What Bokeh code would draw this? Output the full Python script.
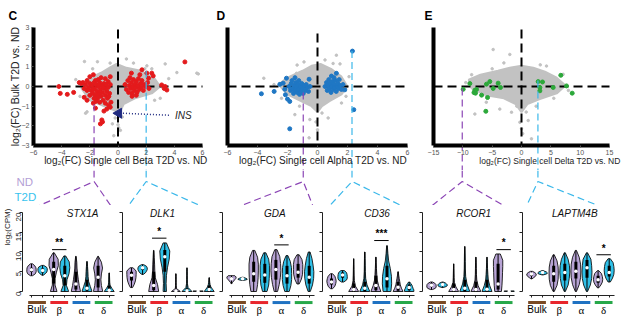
import math
import numpy as np
from bokeh.plotting import figure
from bokeh.layouts import column, row
from bokeh.models import Range1d, FixedTicker, AllLabels
from bokeh.core.properties import value
from bokeh.embed import file_html
from bokeh.resources import INLINE

SANS = "Liberation Sans"
SERIF = "Liberation Serif"

# ====================== DATA: scatter panels ======================
C_RED = [(-4.2,0.0),(-4.1,-0.35),(-3.6,-0.4),(-3.15,-0.3),(-2.75,0.2),(-2.5,0.2),(-2.6,0.15),
         (-2.0,0.5),(-1.75,0.6),(-1.4,0.35),(-0.9,0.4),(-0.55,0.5),(-1.2,0.45),(-1.6,0.3),(-2.2,0.3),(-0.7,0.25),
         (-2.3,0.1),(-2.1,-0.05),(-2.0,0.15),(-1.9,-0.2),(-1.85,0.05),(-1.8,-0.35),(-1.7,0.2),(-1.65,-0.1),
         (-1.6,-0.45),(-1.55,0.1),(-1.5,-0.25),(-1.45,-0.6),(-1.4,0.0),(-1.35,-0.35),(-1.3,0.2),(-1.25,-0.15),
         (-1.2,-0.5),(-1.15,0.05),(-1.1,-0.3),(-1.05,-0.7),(-1.0,0.15),(-0.95,-0.1),(-0.9,-0.45),(-0.85,0.1),
         (-0.8,-0.25),(-0.75,-0.6),(-0.7,-0.05),(-0.6,-0.35),(-0.55,0.1),(-0.5,-0.8),(-1.7,-0.6),(-2.0,-0.45),
         (-1.3,-0.8),(-0.9,-0.85),(-1.55,-0.75),(-2.2,-0.2),(-1.75,-0.15),(-1.35,0.1),(-1.05,-0.05),(-1.45,-0.4),
         (-0.65,-0.5),(-2.4,-0.1),(-1.75,-0.85),(-2.2,-0.7),(-1.6,-1.1),(-0.67,-0.95),(-0.55,-1.05),(-1.15,-1.7),
         (-1.25,-1.9),(-1.1,-1.8),(-0.8,-1.15),(-1.0,-1.25),(-2.4,-0.55),
         (0.5,0.1),(0.6,-0.15),(0.7,0.3),(0.75,-0.3),(0.8,0.05),(0.85,0.45),(0.9,-0.1),(0.95,0.2),(1.0,-0.35),
         (1.05,0.0),(1.1,0.35),(1.15,-0.2),(1.2,0.1),(1.25,-0.05),(1.3,0.25),(1.35,-0.3),(1.4,0.05),(1.45,0.4),
         (1.5,-0.15),(1.6,0.15),(1.65,-0.05),(1.7,0.3),(1.8,-0.2),(1.85,0.1),(1.95,0.0),(2.1,0.2),(2.2,-0.1),
         (0.95,0.68),(1.55,0.6),(1.7,0.85),(2.05,0.68),(2.4,0.68),(2.5,0.54),(2.17,0.42),(1.0,-0.5),(1.3,-0.45),
         (3.1,0.08),(3.35,0.0),(3.47,-0.18),(3.28,-0.1),(4.75,1.25)]
C_GRAY = [(-2.38,1.27),(-0.56,1.19),(1.1,1.19),(2.05,1.05),(3.35,1.15),(4.18,0.71),(5.6,0.68),(-2.2,-1.29),
          (3.0,-0.6),(0.17,-2.23),(-0.3,-2.5),(-1.46,1.26),(5.7,0.64),(-2.3,-1.36),(-3.0,0.35),(-2.7,-0.5),
          (0.6,1.4),(1.9,0.9),(2.6,-0.7),(-0.2,-1.6),(0.3,-1.55),(-1.8,0.9),(3.6,0.4),(2.4,0.9),(-0.4,-1.9),
          (0.0,-1.95),(0.05,-2.1)]
C_CORE_X = [-0.1, 0.6, 1.6, 2.6, 3.0, 2.4, 1.2, 0.4, 0.1, -0.3, -1.0, -2.0, -2.6, -2.2, -1.2, -0.5]
C_CORE_Y = [1.15, 0.95, 0.8, 0.4, 0.0, -0.35, -0.6, -0.9, -1.35, -1.2, -1.0, -0.7, -0.1, 0.35, 0.7, 1.0]
INS_X = [0.05]
INS_Y = [-1.36]
INS_LABEL_X = [3.65]
INS_LABEL_Y = [-1.46]

D_BLUE = [(2.33,1.8),(2.42,-1.18),(-1.85,-2.15),(-3.74,-0.37),(-2.89,-0.25),(-2.51,0.11),(-2.29,0.17),
          (-2.07,0.42),(-2.14,-0.42),(-2.0,-0.64),(-1.85,-0.76),(-2.18,-0.14),(-0.56,0.37),(1.82,-0.17),(-1.5,0.45),
          (-1.9,0.0),(-1.8,-0.2),(-1.75,0.15),(-1.65,-0.1),(-1.6,-0.35),(-1.55,0.05),(-1.5,-0.2),(-1.45,0.2),
          (-1.4,-0.05),(-1.35,-0.3),(-1.3,0.1),(-1.25,-0.15),(-1.2,-0.4),(-1.15,0.0),(-1.1,-0.25),(-1.05,0.15),
          (-1.0,-0.1),(-0.95,-0.35),(-0.9,0.05),(-0.8,-0.2),(-0.75,0.1),(-0.7,-0.05),(-0.6,-0.25),(-1.7,0.3),
          (-1.25,0.3),(-0.5,0.0),
          (0.5,0.0),(0.6,0.2),(0.65,-0.2),(0.7,0.05),(0.75,0.35),(0.8,-0.1),(0.85,0.15),(0.9,-0.3),(0.95,0.0),
          (1.0,0.25),(1.05,-0.15),(1.1,0.1),(1.15,-0.05),(1.2,0.3),(1.25,-0.25),(1.3,0.0),(1.35,0.15),(1.4,-0.1),
          (1.5,0.05),(1.6,-0.15),(1.7,0.1),(0.93,0.53),(1.26,0.67),(1.1,0.45),(1.45,0.35)]
D_GRAY = [(1.26,1.59),(1.04,1.17),(-3.58,0.42),(-2.9,0.1),(-1.4,0.67),(-1.51,-1.43),(-0.51,-1.68),(0.71,-1.6),
          (1.6,-0.84),(-0.56,-2.61),(-1.36,1.09),(1.5,1.15),(2.1,0.5),(-0.1,-1.8),(-1.2,-1.0),(-2.4,-0.6),
          (0.3,-1.35),(1.9,-0.5),(-0.9,1.25),(0.5,1.35),(0.0,-2.2)]
D_CORE_X = [0.2, 0.9, 1.6, 2.0, 1.6, 0.8, 0.3, 0.0, -0.4, -1.2, -2.0, -2.6, -2.0, -1.0, -0.4]
D_CORE_Y = [1.15, 0.9, 0.5, 0.0, -0.4, -0.75, -1.0, -1.3, -1.0, -0.7, -0.4, 0.1, 0.45, 0.8, 1.05]

E_GREEN = [(-9.94,-0.14),(-8.8,0.15),(-7.95,-0.19),(-8.1,-0.31),(-7.84,-0.34),(-6.8,-0.44),(-5.97,0.12),
           (-5.4,0.25),(-4.83,-0.1),(-3.98,0.17),(-3.58,-0.05),(-5.79,-0.56),(-6.08,-1.26),(-7.67,-0.15),
           (2.84,0.25),(3.58,0.23),(3.13,-0.05),(3.13,-0.22),(5.4,-0.05),(6.7,0.57),(7.67,0.03),(8.64,-0.34)]
E_GRAY = [(-4.83,1.88),(-1.99,1.63),(-8.5,0.6),(-1.7,-1.31),(-0.28,-1.82),(0.0,-2.15),(1.7,-2.66),(1.14,-1.73),
          (-7.95,-1.4),(-3.7,-1.15),(7.1,0.62),(4.26,1.04),(-6.0,-0.8),(5.5,-0.6),(8.0,-0.2),(-9.5,0.2),
          (2.5,-1.0),(-3.0,1.2),(3.2,1.1),(-0.8,-1.0),(0.8,-1.3),(-5.0,0.9),(0.2,-2.4)]
E_CORE_X = [0, 2, 4, 6, 7.5, 6, 3, 1, 0, -1, -3, -6, -8.5, -9, -7, -4, -2]
E_CORE_Y = [1.05, 0.95, 0.75, 0.45, 0.05, -0.35, -0.65, -0.9, -1.3, -0.9, -0.6, -0.45, -0.1, 0.35, 0.6, 0.8, 0.95]

# selected genes marked on each scatter (x, start y)
C_PURPLE = (-1.7, -0.9)
C_CYAN = (2.0, 0.8)
D_PURPLE = (-0.95, -0.3)
D_CYAN = (2.3, 1.8)
E_PURPLE = (-10.1, -0.1)
E_CYAN = (2.8, 0.3)

C_XTICKS = [-6, -4, -2, 0, 2, 4, 6]
D_XTICKS = [-6, -4, -2, 0, 2, 4, 6]
E_XTICKS = [-15, -10, -5, 0, 5, 10, 15]
C_YTICKS = [-3, -2, -1, 0, 1, 2, 3]

# ====================== DATA: violin panels ======================
GROUPS = ["Bulk", "β", "α", "δ"]
GROUP_COLORS = ["#7a4a24", "#e8262c", "#1f72c2", "#27a84a"]
POSITIONS = [1, 2, 3, 4, 5, 6, 7, 8]   # ND,T2D for Bulk, beta, alpha, delta

STX1A_LO = [4.0, 4.1, 0.0, 0.0, 0.0, 0.0, 0.0, 0.0]
STX1A_HI = [7.0, 6.6, 9.8, 9.0, 8.9, 7.6, 8.9, 4.7]
STX1A_Q1 = [5.0, 4.8, 2.0, 1.5, 0.5, 0.2, 1.0, 0.0]
STX1A_MED = [5.5, 5.3, 5.6, 4.0, 1.9, 0.8, 3.6, 0.3]
STX1A_Q3 = [6.0, 5.8, 7.5, 6.5, 5.0, 3.0, 6.5, 1.5]
STX1A_SHAPE = [[0.10,0.35,0.42,0.42,0.40,0.30,0.10],[0.05,0.25,0.38,0.42,0.42,0.35,0.10],
               [0.30,0.12,0.12,0.25,0.42,0.40,0.05],[0.35,0.15,0.20,0.38,0.45,0.40,0.08],
               [0.42,0.30,0.22,0.15,0.10,0.08,0.02],[0.45,0.30,0.15,0.10,0.08,0.05,0.02],
               [0.42,0.30,0.25,0.30,0.40,0.30,0.03],[0.45,0.25,0.08,0.05,0.04,0.03,0.02]]

DLK1_LO = [1.0, 4.3, 0.0, 0.0, 0.0, 0.0, 0.0, 0.0]
DLK1_HI = [6.0, 6.8, 10.4, 12.3, 4.5, 6.0, 0.15, 3.5]
DLK1_Q1 = [2.8, 5.5, 0.3, 5.0, 0.0, 0.0, 0.0, 0.0]
DLK1_MED = [4.1, 6.0, 1.5, 8.8, 0.1, 0.2, 0.05, 0.5]
DLK1_Q3 = [5.0, 6.3, 5.0, 10.5, 0.4, 0.8, 0.1, 1.5]
DLK1_SHAPE = [[0.10,0.25,0.35,0.40,0.42,0.42,0.15],[0.05,0.25,0.35,0.42,0.42,0.35,0.10],
              [0.45,0.35,0.15,0.10,0.08,0.05,0.02],[0.15,0.12,0.15,0.25,0.40,0.45,0.15],
              [0.40,0.05,0.03,0.02,0.02,0.02,0.01],[0.45,0.10,0.04,0.03,0.02,0.02,0.01],
              [0.45,0.45,0.45,0.45,0.45,0.45,0.45],[0.45,0.30,0.15,0.08,0.05,0.03,0.02]]

GDA_LO = [2.0, 2.8, 0.0, 0.0, 0.0, 0.0, 1.9, 0.0]
GDA_HI = [4.0, 3.6, 10.4, 9.8, 10.6, 9.1, 9.3, 10.0]
GDA_Q1 = [2.9, 3.0, 2.5, 2.2, 3.0, 2.0, 3.5, 2.0]
GDA_MED = [3.2, 3.2, 4.5, 4.2, 5.6, 4.0, 4.9, 3.6]
GDA_Q3 = [3.6, 3.4, 7.5, 7.0, 8.0, 6.5, 7.0, 6.5]
GDA_SHAPE = [[0.05,0.10,0.20,0.30,0.40,0.42,0.30],[0.05,0.30,0.42,0.40,0.30,0.20,0.05],
             [0.25,0.35,0.40,0.42,0.42,0.35,0.10],[0.20,0.35,0.40,0.42,0.42,0.35,0.10],
             [0.15,0.30,0.40,0.45,0.42,0.35,0.10],[0.20,0.35,0.42,0.42,0.40,0.30,0.08],
             [0.10,0.30,0.40,0.42,0.42,0.35,0.10],[0.10,0.30,0.40,0.42,0.35,0.25,0.08]]

CD36_LO = [0.7, 2.4, 0.0, 0.0, 0.0, 0.0, 0.0, 0.0]
CD36_HI = [4.5, 5.3, 8.3, 10.0, 8.7, 11.6, 5.0, 2.4]
CD36_Q1 = [1.8, 3.5, 0.0, 0.0, 0.3, 1.0, 0.2, 0.3]
CD36_MED = [2.4, 4.2, 0.5, 0.8, 1.5, 3.2, 1.1, 1.0]
CD36_Q3 = [3.3, 4.8, 2.0, 2.5, 4.0, 6.5, 2.5, 1.8]
CD36_SHAPE = [[0.10,0.30,0.38,0.42,0.38,0.30,0.10],[0.10,0.35,0.42,0.42,0.40,0.35,0.15],
              [0.45,0.15,0.06,0.04,0.03,0.02,0.01],[0.45,0.20,0.08,0.05,0.04,0.03,0.02],
              [0.45,0.25,0.12,0.08,0.05,0.03,0.02],[0.35,0.42,0.40,0.30,0.15,0.08,0.03],
              [0.45,0.30,0.20,0.15,0.10,0.05,0.02],[0.42,0.42,0.35,0.30,0.25,0.15,0.05]]

RCOR1_LO = [0.5, 1.0, 0.0, 0.0, 0.0, 0.0, 0.0, 0.0]
RCOR1_HI = [2.4, 2.4, 7.0, 11.4, 8.7, 8.7, 9.5, 0.15]
RCOR1_Q1 = [1.2, 1.5, 0.0, 0.0, 0.0, 0.0, 0.5, 0.0]
RCOR1_MED = [1.6, 1.8, 0.5, 0.8, 0.5, 0.6, 1.9, 0.05]
RCOR1_Q3 = [2.0, 2.1, 2.0, 3.0, 2.5, 3.0, 7.0, 0.1]
RCOR1_SHAPE = [[0.10,0.35,0.42,0.42,0.40,0.30,0.10],[0.05,0.30,0.42,0.42,0.35,0.25,0.05],
               [0.45,0.20,0.06,0.04,0.03,0.02,0.01],[0.45,0.20,0.08,0.05,0.04,0.03,0.01],
               [0.45,0.20,0.08,0.05,0.04,0.03,0.01],[0.45,0.25,0.12,0.08,0.05,0.03,0.01],
               [0.30,0.35,0.38,0.40,0.42,0.42,0.20],[0.45,0.45,0.45,0.45,0.45,0.45,0.45]]

LAPTM4B_LO = [3.2, 4.2, 0.0, 0.0, 0.0, 0.0, 0.9, 2.4]
LAPTM4B_HI = [5.1, 5.3, 9.3, 9.8, 10.4, 9.8, 5.3, 8.3]
LAPTM4B_Q1 = [4.0, 4.6, 2.5, 2.8, 3.3, 3.5, 2.2, 3.8]
LAPTM4B_MED = [4.4, 4.8, 4.5, 4.8, 5.1, 6.0, 3.0, 4.8]
LAPTM4B_Q3 = [4.7, 5.0, 6.5, 7.0, 7.5, 8.0, 4.0, 6.5]
LAPTM4B_SHAPE = [[0.05,0.20,0.35,0.42,0.42,0.30,0.10],[0.05,0.30,0.42,0.42,0.35,0.20,0.05],
                 [0.05,0.30,0.40,0.42,0.40,0.30,0.05],[0.05,0.30,0.40,0.45,0.42,0.30,0.05],
                 [0.05,0.30,0.42,0.45,0.42,0.30,0.05],[0.05,0.30,0.42,0.45,0.42,0.35,0.05],
                 [0.05,0.25,0.38,0.42,0.38,0.30,0.05],[0.10,0.30,0.42,0.45,0.42,0.35,0.10]]

GENES = ["STX1A", "DLK1", "GDA", "CD36", "RCOR1", "LAPTM4B"]
SIG_PAIRS = [(3, 4), (3, 4), (5, 6), (5, 6), (7, 8), (7, 8)]
SIG_Y = [10.6, 13.5, 11.8, 12.9, 10.6, 9.3]
SIG_TEXT = ["**", "*", "*", "***", "*", "*"]
TITLE_X = [5.6, 3.8, 4.9, 5.1, 4.8, 4.9]
V_YTICKS = [0, 5, 10, 15, 20]

# ====================== styling / geometry ======================
ND_FILL = "#b7a3d4"
T2D_FILL = "#2fc0e8"
PURPLE = "#8b45b5"
CYAN = "#3bb8ea"
GRAY = "#c2c2c2"
NAVY = "#1f2a80"

TOP_H = 170
FRAME_TOP = 27         # pixel row of y = 3
AX_PX = 145            # pixel row of y = -3 (x axis)
PX_PER_Y = (AX_PX - FRAME_TOP) / 6.0
Y_BOT = -3.0 - (TOP_H - AX_PX) / PX_PER_Y
Y_TOP = 3.0 + FRAME_TOP / PX_PER_Y
CONN_H = 35
APEX_Y = 11
V_H = 118


def clean(p):
    p.outline_line_color = None
    p.grid.visible = False
    p.background_fill_color = "white"
    p.border_fill_color = "white"
    p.title.visible = False


def blank_labels(axis, ticks):
    axis.major_label_overrides = {t: "" for t in ticks}


def scatter_panel(letter, xr, plot_left, plot_w, fig_w, xticks, xlabel, xlabel_size, xlabel_right_px,
                  show_y, core_x, core_y, gray, hi_pts, hi_color, vtop, purple, cyan):
    s = plot_w / (xr[1] - xr[0])                     # pixels per x unit
    x0 = xr[0] - plot_left / s
    x1 = xr[1] + (fig_w - plot_left - plot_w) / s
    px2x = lambda px: x0 + px / s
    py2y = lambda py: Y_TOP - py / PX_PER_Y

    p = figure(width=fig_w, height=TOP_H, x_range=Range1d(x0, x1), y_range=Range1d(Y_BOT, Y_TOP),
               output_backend="svg", toolbar_location=None, min_border=0)
    clean(p)

    xa = p.xaxis[0]
    xa.fixed_location = -3.0
    xa.bounds = (xr[0], xr[1])
    xa.ticker = FixedTicker(ticks=xticks)
    xa.axis_line_width = 4
    xa.axis_line_color = "black"
    xa.major_tick_in = 0
    xa.major_tick_out = 2
    xa.major_tick_line_color = "#555555"
    xa.minor_tick_line_color = None
    xa.major_label_text_font = SANS
    xa.major_label_text_font_size = "7px"
    xa.major_label_text_color = "#555555"
    xa.major_label_standoff = 2

    ya = p.yaxis[0]
    ya.fixed_location = xr[0]
    ya.bounds = (-3.0, 3.0)
    ya.axis_line_width = 4
    ya.axis_line_color = "black"
    ya.minor_tick_line_color = None
    if show_y:
        ya.ticker = FixedTicker(ticks=C_YTICKS)
        ya.major_tick_in = 0
        ya.major_tick_out = 2
        ya.major_tick_line_color = "#555555"
        ya.major_label_text_font = SANS
        ya.major_label_text_font_size = "7px"
        ya.major_label_text_color = "#555555"
        ya.major_label_standoff = 2
        p.text([px2x(14)], [0.0], text=["log₂(FC) Bulk T2D vs. ND"], angle=math.pi / 2,
               text_font=value(SANS), text_font_size="10.5px", text_color="#222222",
               text_align="center", text_baseline="middle")
    else:
        ya.ticker = FixedTicker(ticks=[])

    p.patch(core_x, core_y, fill_color=GRAY, line_color=GRAY, line_width=2)
    p.scatter([g[0] for g in gray], [g[1] for g in gray], size=2.5, color=GRAY)
    p.line([xr[0], xr[1]], [0, 0], line_color="black", line_width=2, line_dash="9 5")
    p.line([0, 0], [vtop, -3.0], line_color="black", line_width=2, line_dash="9 5")
    p.scatter([h[0] for h in hi_pts], [h[1] for h in hi_pts], size=4, color=hi_color)
    p.line([purple[0], purple[0]], [purple[1], Y_BOT], line_color=PURPLE, line_width=1.2, line_dash="7 4")
    p.line([cyan[0], cyan[0]], [cyan[1], Y_BOT], line_color=CYAN, line_width=1.2, line_dash="7 4")

    p.text([px2x(xlabel_right_px)], [py2y(160)], text=[xlabel], text_font=value(SANS),
           text_font_size=xlabel_size, text_color="#222222", text_align="right", text_baseline="middle")
    p.text([px2x(8)], [py2y(15)], text=[letter], text_font=value(SANS), text_font_size="12px",
           text_font_style="bold", text_align="left", text_baseline="middle", text_color="black")
    return p


C_XR = (-6, 6)
D_XR = (-6, 6)
E_XR = (-15, 15)
# (plot-area left, plot-area width) in pixels inside each 208-px panel
C_GEO = (33, 169)
D_GEO = (19, 180)
E_GEO = (17, 176)

pC = scatter_panel("C", C_XR, C_GEO[0], C_GEO[1], 208, C_XTICKS, "log₂(FC) Single cell Beta T2D vs. ND",
                   "10px", 207, True, C_CORE_X, C_CORE_Y, C_GRAY, C_RED, "#e41a1c", 2.9, C_PURPLE, C_CYAN)
pC.line([INS_X[0] + 0.3, INS_LABEL_X[0]], [INS_Y[0], INS_LABEL_Y[0]], line_color=NAVY, line_width=1.5, line_dash="1 2")
pC.scatter(INS_X, INS_Y, marker="triangle", angle=math.pi / 2, size=10, color=NAVY)
pC.text([INS_LABEL_X[0] + 0.4], INS_LABEL_Y, text=["INS"], text_font=value(SANS), text_font_size="10px",
        text_font_style="italic", text_baseline="middle", text_align="left", text_color="#222222")

pD = scatter_panel("D", D_XR, D_GEO[0], D_GEO[1], 208, D_XTICKS, "log₂(FC) Single cell Alpha T2D vs. ND",
                   "10px", 199, False, D_CORE_X, D_CORE_Y, D_GRAY, D_BLUE, "#1f77c4", 2.7, D_PURPLE, D_CYAN)
pE = scatter_panel("E", E_XR, E_GEO[0], E_GEO[1], 208, E_XTICKS, "log₂(FC) Single cell Delta T2D vs. ND",
                   "8.5px", 204, False, E_CORE_X, E_CORE_Y, E_GRAY, E_GREEN, "#2ca83a", 2.9, E_PURPLE, E_CYAN)

TOP_GEOM = [(0 + C_GEO[0], C_GEO[1], C_XR), (208 + D_GEO[0], D_GEO[1], D_XR), (416 + E_GEO[0], E_GEO[1], E_XR)]


def to_px(geom, x):
    left, w, xr = geom
    return left + (x - xr[0]) / (xr[1] - xr[0]) * w


# ====================== connector strip ======================
V_WIDTHS = [117, 100, 100, 100, 100, 107]
V_LEFT = [22, 5, 5, 5, 5, 5]          # pixel offset of each panel's y axis
V_AXIS_PX = []
acc = 0
for w_, l_ in zip(V_WIDTHS, V_LEFT):
    V_AXIS_PX.append(acc + l_)
    acc += w_

conn = figure(width=624, height=CONN_H, x_range=Range1d(0, 624), y_range=Range1d(CONN_H, 0),
              x_axis_type=None, y_axis_type=None, output_backend="svg", toolbar_location=None,
              min_border=0)
clean(conn)

marks = [(0, C_PURPLE, PURPLE), (0, C_CYAN, CYAN), (1, D_PURPLE, PURPLE), (1, D_CYAN, CYAN),
         (2, E_PURPLE, PURPLE), (2, E_CYAN, CYAN)]
for k, (gi, mk, col) in enumerate(marks):
    ax = to_px(TOP_GEOM[gi], mk[0])
    left_c = V_AXIS_PX[k] + 1
    right_c = V_AXIS_PX[k] + 93
    conn.multi_line([[ax, ax], [left_c, ax, right_c]], [[0, APEX_Y], [CONN_H + 7, APEX_Y, CONN_H + 7]],
                    line_color=col, line_width=1.2, line_dash="7 4")

conn.text([16], [11], text=["ND"], text_font=value(SANS), text_font_size="11.5px", text_color="#b49fd6",
          text_baseline="middle", text_align="left")
conn.text([14], [26], text=["T2D"], text_font=value(SANS), text_font_size="11.5px", text_color="#38c3ee",
          text_baseline="middle", text_align="left")

# ====================== violin panels ======================
V_PX_PER_X = 11.1
V_X_AXIS0 = 0.19          # data x at each panel's y axis
V_YR = (-8.1, 21.77)

gene_stats = {
    "STX1A": (STX1A_LO, STX1A_HI, STX1A_Q1, STX1A_MED, STX1A_Q3, STX1A_SHAPE),
    "DLK1": (DLK1_LO, DLK1_HI, DLK1_Q1, DLK1_MED, DLK1_Q3, DLK1_SHAPE),
    "GDA": (GDA_LO, GDA_HI, GDA_Q1, GDA_MED, GDA_Q3, GDA_SHAPE),
    "CD36": (CD36_LO, CD36_HI, CD36_Q1, CD36_MED, CD36_Q3, CD36_SHAPE),
    "RCOR1": (RCOR1_LO, RCOR1_HI, RCOR1_Q1, RCOR1_MED, RCOR1_Q3, RCOR1_SHAPE),
    "LAPTM4B": (LAPTM4B_LO, LAPTM4B_HI, LAPTM4B_Q1, LAPTM4B_MED, LAPTM4B_Q3, LAPTM4B_SHAPE),
}

violins = []
for k, gene in enumerate(GENES):
    lo, hi, q1, med, q3, shape = gene_stats[gene]
    xr0 = V_X_AXIS0 - V_LEFT[k] / V_PX_PER_X
    xr1 = V_X_AXIS0 + (V_WIDTHS[k] - V_LEFT[k]) / V_PX_PER_X
    p = figure(width=V_WIDTHS[k], height=V_H, x_range=Range1d(xr0, xr1), y_range=Range1d(*V_YR),
               output_backend="svg", toolbar_location=None, min_border=0)
    clean(p)

    xs, ys, fills = [], [], []
    for i in range(8):
        pos = POSITIONS[i]
        lv = np.linspace(lo[i], hi[i], len(shape[i]))
        w = np.array(shape[i])
        xs.append(list(pos + w) + list(pos - w[::-1]))
        ys.append(list(lv) + list(lv[::-1]))
        fills.append(ND_FILL if i % 2 == 0 else T2D_FILL)
    p.patches(xs, ys, fill_color=fills, line_color="#111111", line_width=0.9)
    p.segment(POSITIONS, lo, POSITIONS, hi, line_color="black", line_width=1)
    p.segment(POSITIONS, q1, POSITIONS, q3, line_color="black", line_width=3)
    p.scatter(POSITIONS, med, size=3.5, fill_color="white", line_color=None)

    a, b = SIG_PAIRS[k]
    p.segment([a - 0.15], [SIG_Y[k]], [b + 0.15], [SIG_Y[k]], line_color="black", line_width=1)
    p.text([(a + b) / 2], [SIG_Y[k] + 0.3], text=[SIG_TEXT[k]], text_font=value(SANS),
           text_font_size="10px", text_font_style="bold", text_align="center", text_baseline="bottom")
    p.text([TITLE_X[k]], [19.7], text=[gene], text_font=value(SANS), text_font_size="10px",
           text_font_style="italic", text_align="center", text_baseline="middle", text_color="#111111")

    centers = [(POSITIONS[2 * g] + POSITIONS[2 * g + 1]) / 2 for g in range(4)]
    p.segment([c - 0.8 for c in centers], [-2.8] * 4, [c + 0.8 for c in centers], [-2.8] * 4,
              line_color=GROUP_COLORS, line_width=3)
    p.text([centers[0]], [-4.6], text=[GROUPS[0]], text_font=value(SANS), text_font_size="10px",
           text_align="center", text_baseline="middle")
    p.text(centers[1:], [-4.6] * 3, text=GROUPS[1:], text_font=value(SERIF), text_font_size="11px",
           text_align="center", text_baseline="middle")

    xa = p.xaxis[0]
    xa.fixed_location = -1.0
    xa.bounds = (0.82, 8.48)
    xa.ticker = FixedTicker(ticks=POSITIONS)
    xa.major_tick_in = 0
    xa.major_tick_out = 2
    xa.minor_tick_line_color = None
    blank_labels(xa, POSITIONS)
    xa.axis_line_color = "#222222"
    xa.major_tick_line_color = "#222222"

    ya = p.yaxis[0]
    ya.fixed_location = V_X_AXIS0
    ya.bounds = (0, 20)
    ya.ticker = FixedTicker(ticks=V_YTICKS)
    ya.major_tick_in = 0
    ya.major_tick_out = 3
    ya.minor_tick_line_color = None
    ya.axis_line_color = "#222222"
    ya.major_tick_line_color = "#222222"
    if k == 0:
        ya.major_label_text_font = SANS
        ya.major_label_text_font_size = "8px"
        ya.major_label_text_color = "#222222"
        ya.major_label_orientation = math.pi / 2
        ya.major_label_policy = AllLabels()
        ya.major_label_standoff = 1
        p.text([xr0 + 7 / V_PX_PER_X], [16.3], text=["log₂(CPM)"], angle=math.pi / 2,
               text_font=value(SANS), text_font_size="8px", text_color="#222222",
               text_align="center", text_baseline="middle")
    else:
        blank_labels(ya, V_YTICKS)
        ya.major_label_standoff = 0
    violins.append(p)

layout = column(row(pC, pD, pE), conn, row(*violins))
open("out.html", "w").write(file_html(layout, INLINE))
